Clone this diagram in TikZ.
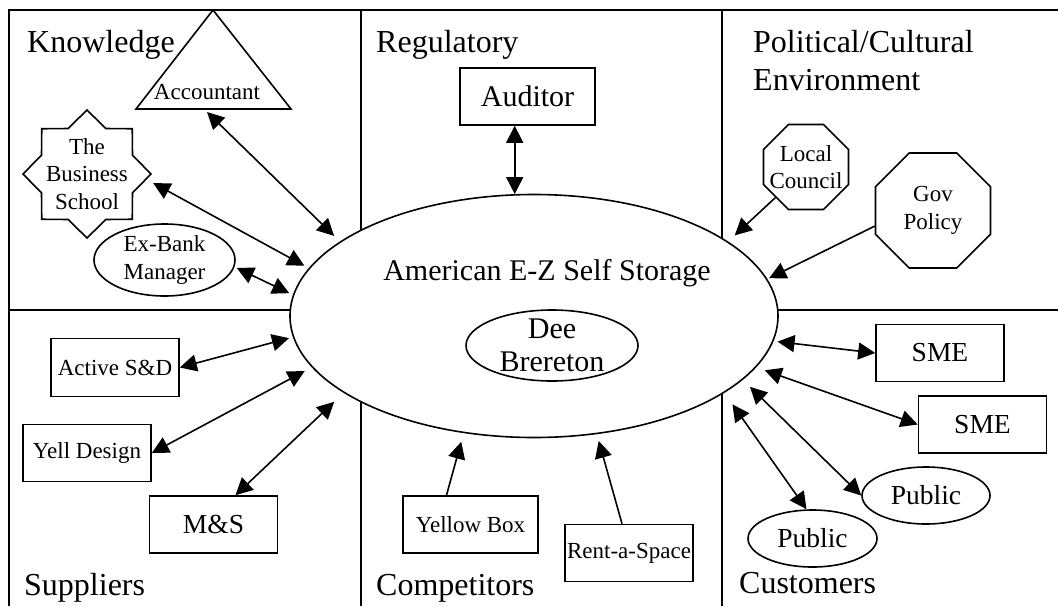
\documentclass[tikz,border=0pt]{standalone}
\usepackage{fontspec}
\setmainfont{Liberation Serif}
\usetikzlibrary{shapes.geometric, arrows.meta}

\tikzset{
  area/.style = {font=\fontsize{32}{38}\selectfont, anchor=base west, align=left, inner sep=0pt},
  smalltext/.style = {font=\fontsize{23}{27.5}\selectfont, align=center, inner sep=0pt},
  midtext/.style = {font=\fontsize{27.5}{33}\selectfont, align=center, inner sep=0pt},
  bigtext/.style = {font=\fontsize{30}{33}\selectfont, align=center, inner sep=0pt},
  box/.style = {draw, line width=1.6pt, rectangle, minimum width=128pt, minimum height=57pt, inner sep=0pt},
  oval/.style = {draw, line width=1.6pt, ellipse, inner sep=0pt},
  oct/.style = {draw, line width=1.6pt, regular polygon, regular polygon sides=8, inner sep=0pt},
  link/.style = {{Triangle[length=17pt,width=17pt]}-{Triangle[length=17pt,width=17pt]}, line width=1.6pt},
  push/.style = {-{Triangle[length=17pt,width=17pt]}, line width=1.6pt},
}

\begin{document}
\begin{tikzpicture}[x=1pt, y=-1pt]
\useasboundingbox (0,0) rectangle (1058,606);

% frame and the six areas
\draw [line width=2pt] (9,606) -- (9,10) -- (1058,10);
\draw [line width=1.8pt] (361,10) -- (361,606);
\draw [line width=1.8pt] (722,10) -- (722,606);
\draw [line width=1.8pt] (9,310) -- (1058,310);

\node [area] (know) at (27,52) {Knowledge};
\node [area] (reg) at (376,52) {Regulatory};
\node [area, anchor=north west] (pol) at (753,30) {Political/Cultural\\Environment};
\node [area] (sup) at (24,595) {Suppliers};
\node [area] (comp) at (376,595) {Competitors};
\node [area] (cust) at (739,593) {Customers};

% the firm
\node [oval, fill=white, minimum width=488pt, minimum height=243pt] (firm) at (534,316) {};
\node [bigtext, anchor=base] (firmname) at (547,280) {American E-Z Self Storage};
\node [oval, minimum width=172pt, minimum height=71pt] (dee) at (552,345.5) {};
\node [bigtext] (deename) at (dee) {Dee\\Brereton};

% knowledge
\draw [line width=1.6pt] (136,109) -- (213,10) -- (291,109) -- cycle;
\node [smalltext] (acc) at (207,92) {Accountant};
\node [draw, line width=1.6pt, star, star points=8, star point ratio=1.3,
       minimum size=128pt, inner sep=0pt] (bschool) at (87,174) {};
\node [smalltext] (bstext) at (bschool) {The\\Business\\School};
\node [oval, smalltext, minimum width=141pt, minimum height=72pt] (exbank) at (164.5,260) {Ex-Bank\\Manager};

% regulatory
\node [box, bigtext, minimum width=135pt] (auditor) at (527.5,96.5) {Auditor};

% political / cultural
\node [oct, minimum size=92pt] (council) at (806,167) {};
\node [smalltext] (counciltext) at (council) {Local\\Council};
\node [oct, smalltext, minimum size=124.5pt] (gov) at (933,210.5) {Gov\\Policy};

% suppliers
\node [box, smalltext, minimum height=58pt] (active) at (115,367.5) {Active S\&D};
\node [box, smalltext] (yell) at (87,453) {Yell Design};
\node [box, midtext] (ms) at (213.5,524.5) {M\&S};

% competitors
\node [box, smalltext, minimum width=135pt] (yellow) at (470.5,524.5) {Yellow Box};
\node [box, smalltext] (rent) at (629,553) {Rent-a-Space};

% customers
\node [box, midtext] (sme1) at (940,353) {SME};
\node [box, midtext] (sme2) at (982.5,424.5) {SME};
\node [oval, midtext, minimum width=128pt, minimum height=57pt] (pub1) at (926,495.5) {Public};
\node [oval, midtext, minimum width=129pt, minimum height=57pt] (pub2) at (812.5,538.5) {Public};

% links to the firm
\draw [link, shorten >=8pt] ([shift={(0,20)}]acc.center) -- (firm.159);
\draw [link, shorten >=5pt] ([shift={(1,9)}]bschool.east) -- (firm.168);
\draw [link, shorten >=4pt] ([shift={(1,8)}]exbank.east) -- (firm.175);
\draw [link] (auditor.south -| firm.99) -- (firm.99);
\draw [push, shorten >=9pt] (council.-135) -- (firm.21);
\draw [push, shorten >=2pt] (gov.195) -- (firm.9);
\draw [link, shorten >=4pt] (active.east) -- (firm.185);
\draw [link, shorten >=8pt] (yell.east) -- (firm.193);
\draw [link, shorten >=13pt] ([shift={(22,0)}]ms.north) -- (firm.202);
\draw [push, shorten >=9pt] ([shift={(-24,0)}]yellow.north) -- (firm.239);
\draw [push, shorten >=7pt] ([shift={(-7,0)}]rent.north) -- (firm.298);
\draw [link, shorten >=4pt] (sme1.west) -- (firm.354);
\draw [link, shorten >=9pt] (sme2.west) -- (firm.347);
\draw [link, shorten >=10pt] (pub1.west) -- (firm.343);
\draw [link, shorten >=14pt] ([shift={(-6,0)}]pub2.north) -- (firm.338);

\end{tikzpicture}
\end{document}
